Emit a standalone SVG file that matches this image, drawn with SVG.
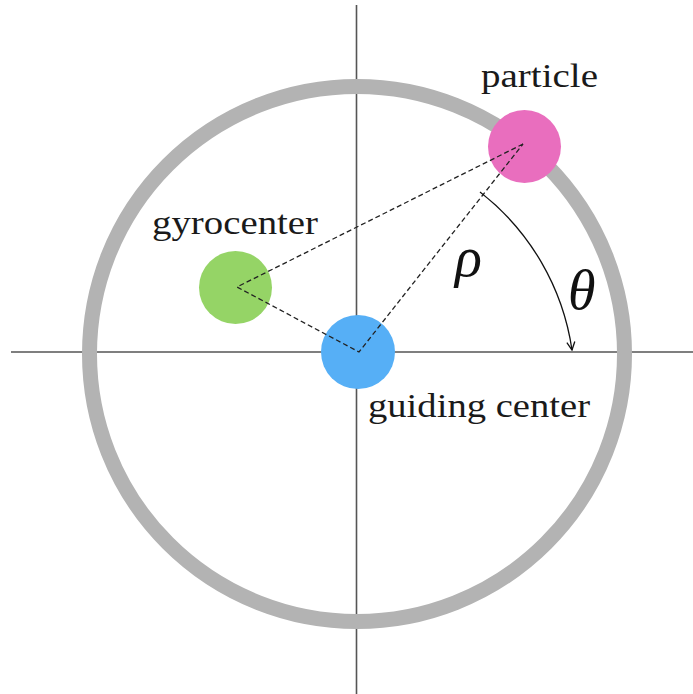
<svg xmlns="http://www.w3.org/2000/svg" width="693" height="694" viewBox="0 0 693 694">
<style>
.axis{stroke:#555;stroke-width:1.6;fill:none}
.dash{stroke:#222;stroke-width:1.3;stroke-dasharray:5 3;fill:none}
.lbl{font-family:"Liberation Serif","DejaVu Serif",serif;font-size:34px;fill:#1a1a1a}
.math{font-family:"Liberation Serif","DejaVu Serif",serif;font-style:italic;font-size:56px;fill:#111}
</style>
<defs>
<marker id="arr" viewBox="0 0 10 10" refX="9" refY="5" markerWidth="10" markerHeight="10" markerUnits="userSpaceOnUse" orient="auto">
<path d="M1,1 L9,5 L1,9" fill="none" stroke="#111" stroke-width="1.3"/>
</marker>
</defs>
<rect width="693" height="694" fill="#fff"/>
<g id="axes">
<line class="axis" x1="11" y1="352" x2="693" y2="352"/>
<line class="axis" x1="356.5" y1="5" x2="356.5" y2="694"/>
</g>
<g id="orbit">
<circle cx="357" cy="354" r="267.5" fill="none" stroke="#b3b3b3" stroke-width="15"/>
</g>
<g id="gyrocenter">
<circle cx="235.5" cy="287.5" r="36.5" fill="#95d466"/>
<text class="lbl" x="152" y="234" textLength="166" lengthAdjust="spacingAndGlyphs">gyrocenter</text>
</g>
<g id="guiding-center">
<circle cx="358" cy="352" r="37" fill="#56aff6"/>
<text class="lbl" x="368" y="417" textLength="222" lengthAdjust="spacingAndGlyphs">guiding center</text>
</g>
<g id="particle">
<circle cx="524.5" cy="146.5" r="36.5" fill="#e96ebe"/>
<text class="lbl" x="481" y="87" textLength="117" lengthAdjust="spacingAndGlyphs">particle</text>
</g>
<g id="connectors">
<path class="dash" d="M523,144 L237,287 L359,352 Z"/>
<path d="M480,192 A245 245 0 0 1 572,350" fill="none" stroke="#111" stroke-width="1.3" marker-end="url(#arr)"/>
</g>
<g id="labels">
<text class="math" x="455" y="276">ρ</text>
<text class="math" x="568" y="309">θ</text>
</g>
</svg>
